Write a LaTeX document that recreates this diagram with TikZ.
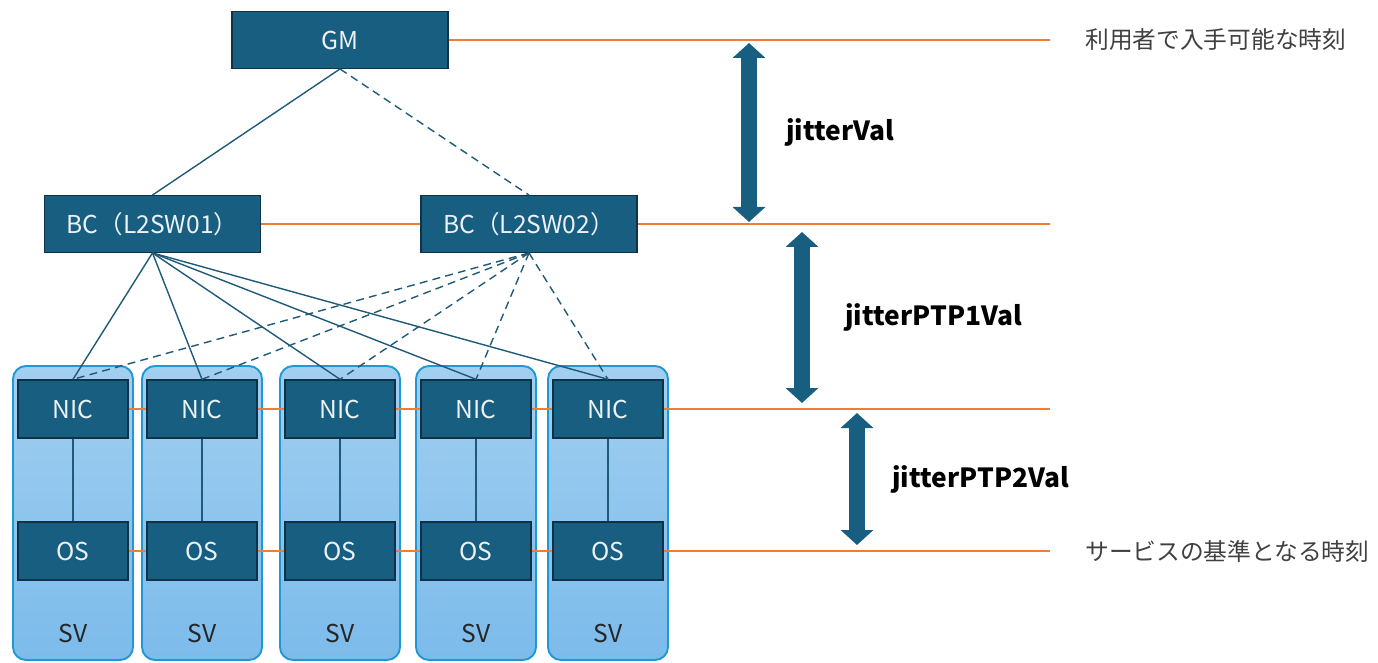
\documentclass[tikz,border=0pt]{standalone}
\usepackage{fontspec}
\setmainfont{Noto Sans CJK JP}
\usepackage{tikz}
\definecolor{boxblue}{RGB}{23,94,128}
\definecolor{boxedge}{RGB}{14,50,72}
\definecolor{boxtext}{RGB}{236,241,245}
\definecolor{linkblue}{RGB}{31,90,120}
\definecolor{svtop}{RGB}{162,207,240}
\definecolor{svbottom}{RGB}{124,187,235}
\definecolor{svedge}{RGB}{32,152,212}
\definecolor{timeorange}{RGB}{240,125,50}
\definecolor{labelgray}{RGB}{64,64,64}
\usetikzlibrary{arrows.meta,positioning}
\tikzset{
  devbox/.style={draw=boxedge,fill=boxblue,line width=0.8pt,text=boxtext,
    font=\fontsize{14}{16}\selectfont,minimum width=2.2cm,minimum height=1.16cm,inner sep=0pt},
  swbox/.style={devbox,minimum width=4.32cm,minimum height=1.13cm},
  svbox/.style={draw=svedge,line width=1.1pt,rounded corners=0.26cm,top color=svtop,
    bottom color=svbottom,minimum width=2.4cm,minimum height=5.88cm,inner sep=0pt},
  svlbl/.style={font=\fontsize{14}{16}\selectfont,text=black!85,inner sep=0pt},
  link/.style={linkblue,line width=0.8pt},
  backup/.style={link,dash pattern=on 4.5pt off 3pt},
  timeline/.style={timeorange,line width=1.2pt},
  jitter/.style={boxblue,line width=0.32cm,
    {Triangle[width=0.64cm,length=0.3cm]}-{Triangle[width=0.64cm,length=0.3cm]}},
  jitterlbl/.style={font=\fontsize{15}{18}\selectfont\bfseries,anchor=base west,inner sep=0pt},
  timelbl/.style={font=\fontsize{13.5}{16}\selectfont,text=labelgray,anchor=west,inner sep=0pt}
}
\begin{document}
\begin{tikzpicture}
  \useasboundingbox (0,0) rectangle (27.56,13.24);
  % Grandmaster and boundary clocks
  \node[swbox] (gm) at (6.80,12.44) {GM};
  \node[swbox] (bcA) at (3.05,8.76) {BC（L2SW01）};
  \node[swbox] (bcB) at (10.58,8.76) {BC（L2SW02）};
  % Servers
  \foreach \i/\x in {1/1.46,2/4.04,3/6.80,4/9.52,5/12.16} {
    \node[svbox] (sv\i) at (\x,2.98) {};
    \node[devbox] (nic\i) at (\x,5.06) {NIC};
    \node[devbox] (os\i) at (\x,2.22) {OS};
    \node[svlbl] (svl\i) at (\x,0.58) {SV};
    \draw[link] (nic\i) -- (os\i);
  }
  % PTP links
  \draw[link] (gm.south) -- (bcA.north);
  \draw[backup] (gm.south) -- (bcB.north);
  \foreach \i in {1,...,5} {
    \draw[link] (bcA.south) -- (nic\i.north);
    \draw[backup] (bcB.south) -- (nic\i.north);
  }
  % Time levels
  \coordinate (tGM) at (21.0,12.44);
  \coordinate (tBC) at (21.0,8.76);
  \coordinate (tNIC) at (21.0,5.06);
  \coordinate (tOS) at (21.0,2.22);
  \draw[timeline] (gm) -- (tGM);
  \draw[timeline] (bcA) -- (bcB);
  \draw[timeline] (bcB) -- (tBC);
  \foreach \i [count=\j from 2] in {1,...,4} {
    \draw[timeline] (nic\i) -- (nic\j);
    \draw[timeline] (os\i) -- (os\j);
  }
  \draw[timeline] (nic5) -- (tNIC);
  \draw[timeline] (os5) -- (tOS);
  \node[timelbl] (userTime) at (21.7,12.44) {利用者で入手可能な時刻};
  \node[timelbl] (svcTime) at (21.7,2.22) {サービスの基準となる時刻};
  % Jitter ranges
  \coordinate (jA1) at (14.98,12.38);
  \coordinate (jA2) at (14.98,8.80);
  \coordinate (jB1) at (16.04,8.60);
  \coordinate (jB2) at (16.04,5.18);
  \coordinate (jC1) at (17.14,4.98);
  \coordinate (jC2) at (17.14,2.34);
  \draw[jitter] (jA1) -- (jA2);
  \draw[jitter] (jB1) -- (jB2);
  \draw[jitter] (jC1) -- (jC2);
  \node[jitterlbl] (jitA) at (15.72,10.42) {jitterVal};
  \node[jitterlbl] (jitB) at (16.90,6.72) {jitterPTP1Val};
  \node[jitterlbl] (jitC) at (17.84,3.50) {jitterPTP2Val};
\end{tikzpicture}
\end{document}
